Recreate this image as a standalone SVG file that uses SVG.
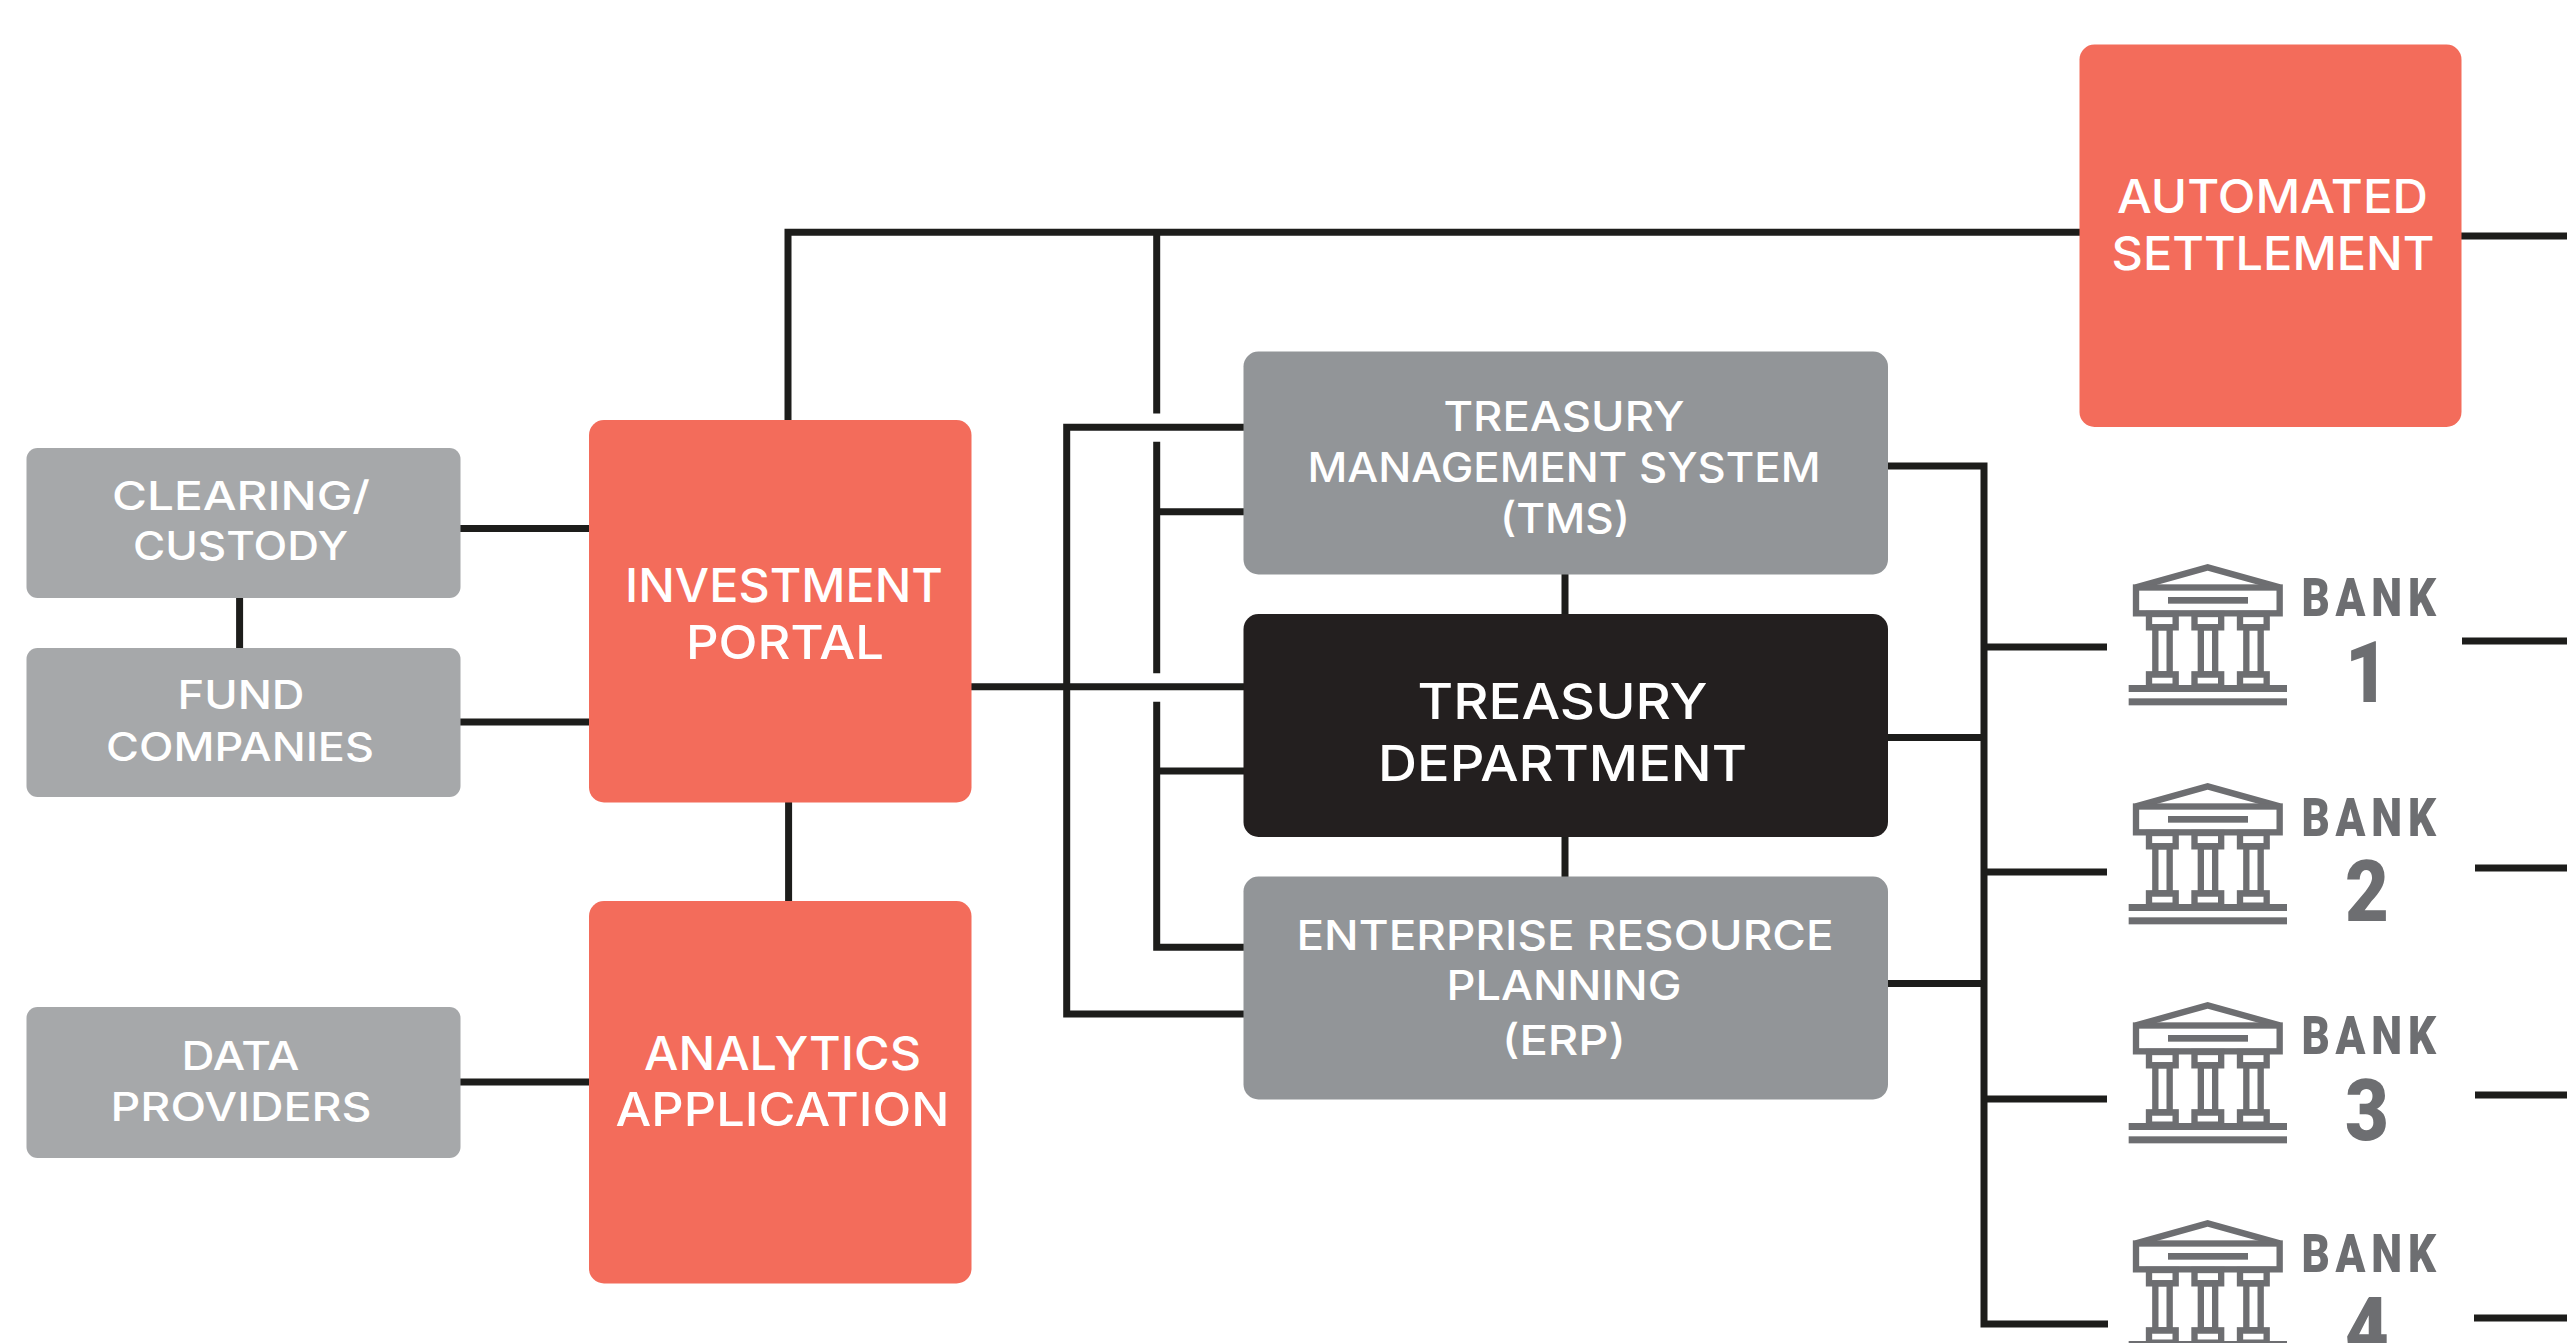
<svg xmlns="http://www.w3.org/2000/svg" xmlns:xlink="http://www.w3.org/1999/xlink" width="2567" height="1343" viewBox="0 0 2567 1343">
<style>
.coral{fill:#F36C5B}.lgrey{fill:#A6A8AA}.grey{fill:#929598}.black{fill:#231F1F}
.t{font-family:"Inter","Liberation Sans",sans-serif;font-weight:500;fill:#fff;text-anchor:middle}
.s1{font-size:40px}.s2{font-size:41px}.s3{font-size:46px}.s4{font-size:49px}
.cn{fill:none;stroke:#1D1D1B;stroke-width:7;stroke-linejoin:miter}
.ic{fill:none;stroke:#6D6E71;stroke-width:19}
.icf{fill:#6D6E71}
.bk{font-family:"Roboto","Liberation Sans",sans-serif;font-weight:900;fill:#6D6E71}
.bk1{font-size:53.5px}.bk2{font-size:86px;text-anchor:middle}
</style>
<defs>
<g id="bank-icon" transform="translate(2050 540) scale(.33333)">
<path class="ic" d="M258 142L473 82L689 142"/>
<rect class="ic" x="258" y="142.5" width="431" height="77.5"/>
<rect class="icf" x="354" y="171" width="240" height="20"/>
<g id="col"><rect class="ic" x="297" y="222" width="80" height="40"/><rect class="ic" x="316" y="262" width="43" height="141"/><rect class="ic" x="297" y="403" width="80" height="37"/></g>
<use xlink:href="#col" href="#col" x="136.5"/>
<use xlink:href="#col" href="#col" x="273"/>
<rect class="icf" x="236" y="435" width="475" height="21"/>
<rect class="icf" x="236" y="475" width="475" height="21"/>
</g>
</defs>
<rect width="2567" height="1343" fill="#fff"/>
<g id="connectors">
<path class="cn" d="M460 528.500H589M460 722H589M239.6 597V648M460 1082H589"/>
<path class="cn" d="M788 420V232.300H2080M788.6 802V902"/>
<path class="cn" d="M1156.7 232V413.5M1156.7 441.7V673.3M1156.7 701.7V947.3H1244M1156.7 511.7H1244M1156.7 771H1244"/>
<path class="cn" d="M1244 427.3H1066.7V1014H1244M971 686.7H1244"/>
<path class="cn" d="M1565 574V615M1565 836V877"/>
<path class="cn" d="M1888 466H1984V1324H2108M1888 737.5H1984M1888 983.5H1984M1984 647H2107M1984 872H2107M1984 1099H2107"/>
<path class="cn" d="M2461 236H2567M2462 641H2567M2475 868H2567M2475 1095H2567M2474 1318H2567"/>
</g>
<g id="clearing"><rect class="lgrey" x="26.5" y="448" width="434" height="150" rx="11"/><text class="t s1" x="241" y="510" textLength="258" lengthAdjust="spacingAndGlyphs">CLEARING/</text><text class="t s1" x="240.5" y="560" textLength="215" lengthAdjust="spacingAndGlyphs">CUSTODY</text></g>
<g id="fund"><rect class="lgrey" x="26.5" y="648" width="434" height="149" rx="11"/><text class="t s1" x="241" y="709" textLength="127" lengthAdjust="spacingAndGlyphs">FUND</text><text class="t s1" x="240" y="761" textLength="268" lengthAdjust="spacingAndGlyphs">COMPANIES</text></g>
<g id="data"><rect class="lgrey" x="26.5" y="1007" width="434" height="151" rx="11"/><text class="t s1" x="240.5" y="1070" textLength="118" lengthAdjust="spacingAndGlyphs">DATA</text><text class="t s1" x="241" y="1121" textLength="261" lengthAdjust="spacingAndGlyphs">PROVIDERS</text></g>
<g id="investment"><rect class="coral" x="589" y="420" width="382.500" height="382.500" rx="15"/><text class="t s3" x="784" y="602" textLength="318" lengthAdjust="spacingAndGlyphs">INVESTMENT</text><text class="t s3" x="785" y="659" textLength="198" lengthAdjust="spacingAndGlyphs">PORTAL</text></g>
<g id="analytics"><rect class="coral" x="589" y="901" width="382.500" height="382.500" rx="15"/><text class="t s3" x="782.500" y="1070" textLength="277" lengthAdjust="spacingAndGlyphs">ANALYTICS</text><text class="t s3" x="782.500" y="1125.500" textLength="334" lengthAdjust="spacingAndGlyphs">APPLICATION</text></g>
<g id="automated"><rect class="coral" x="2079.500" y="44.500" width="382" height="382.500" rx="15"/><text class="t s3" x="2272.500" y="212.500" textLength="311" lengthAdjust="spacingAndGlyphs">AUTOMATED</text><text class="t s3" x="2273" y="270" textLength="323" lengthAdjust="spacingAndGlyphs">SETTLEMENT</text></g>
<g id="tms"><rect class="grey" x="1243.500" y="351.500" width="644.500" height="223" rx="15"/><text class="t s2" x="1564" y="431" textLength="241" lengthAdjust="spacingAndGlyphs">TREASURY</text><text class="t s2" x="1564" y="482" textLength="513" lengthAdjust="spacingAndGlyphs">MANAGEMENT SYSTEM</text><text class="t s2" x="1565" y="533" textLength="130" lengthAdjust="spacingAndGlyphs">(TMS)</text></g>
<g id="treasury"><rect class="black" x="1243.500" y="614" width="644.500" height="223" rx="15"/><text class="t s4" x="1562.500" y="719" textLength="290" lengthAdjust="spacingAndGlyphs">TREASURY</text><text class="t s4" x="1562.500" y="780.500" textLength="369" lengthAdjust="spacingAndGlyphs">DEPARTMENT</text></g>
<g id="erp"><rect class="grey" x="1243.500" y="876.500" width="644.500" height="223" rx="15"/><text class="t s2" x="1565" y="950" textLength="537" lengthAdjust="spacingAndGlyphs">ENTERPRISE RESOURCE</text><text class="t s2" x="1564" y="1000" textLength="235" lengthAdjust="spacingAndGlyphs">PLANNING</text><text class="t s2" x="1564" y="1054.500" textLength="124" lengthAdjust="spacingAndGlyphs">(ERP)</text></g>
<g id="bank1"><use xlink:href="#bank-icon" href="#bank-icon"/><text class="bk bk1" transform="translate(2301.500 616) scale(.82 1)" textLength="164">BANK</text><text class="bk bk2" transform="translate(2367 702) scale(.88 1)">1</text></g>
<g id="bank2"><use xlink:href="#bank-icon" href="#bank-icon" y="219"/><text class="bk bk1" transform="translate(2301.500 836) scale(.82 1)" textLength="164">BANK</text><text class="bk bk2" transform="translate(2367 921) scale(.88 1)">2</text></g>
<g id="bank3"><use xlink:href="#bank-icon" href="#bank-icon" y="438"/><text class="bk bk1" transform="translate(2301.500 1054) scale(.82 1)" textLength="164">BANK</text><text class="bk bk2" transform="translate(2367 1140) scale(.88 1)">3</text></g>
<g id="bank4"><use xlink:href="#bank-icon" href="#bank-icon" y="656"/><text class="bk bk1" transform="translate(2301.500 1272) scale(.82 1)" textLength="164">BANK</text><text class="bk bk2" transform="translate(2367 1358) scale(.88 1)">4</text></g>
</svg>
